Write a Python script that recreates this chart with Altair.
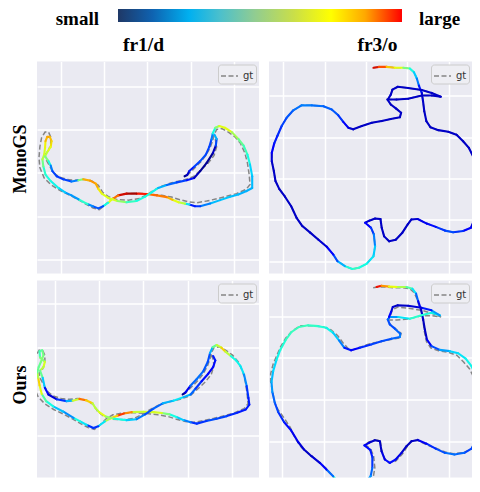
import altair as alt
import pandas as pd

SERIF = "Liberation Serif"
BG = "#EAEAF2"
GT_COLOR = "#858585"

# ---------------- colour bar and headings ----------------
cb_stop_offsets = [0, 0.12, 0.25, 0.36, 0.48, 0.62, 0.75, 0.87, 1.0]
cb_stop_colors = ["#1f3866", "#0f62b0", "#00b0f0", "#4cc0cc", "#90cc92",
                  "#cadf48", "#ffff00", "#ffa800", "#ff0000"]
cb_labels = ["small", "large"]
cb_label_pos = [-0.067, 1.06]

col_titles = ["fr1/d", "fr3/o"]
col_title_pos = [0.0898, 0.9137]
row_titles = ["MonoGS", "Ours"]

# ---------------- fr1/desk ----------------
fr1_gt_x = [2.91, 2.98, 3.10, 3.23, 3.35, 3.45, 3.51, 3.54, 3.60, 3.72,
            3.87, 4.02, 4.15, 4.25, 4.31, 4.35, 4.37, 4.28, 4.06, 3.83,
            3.60, 3.37, 3.14, 2.95, 2.75, 2.56, 2.33, 2.06, 1.79, 1.52,
            1.31, 1.15, 1.02, 0.89, 0.75, 0.56, 0.37, 0.18, -0.03, -0.23,
            -0.38, -0.48, -0.50, -0.48, -0.44, -0.36, -0.28, -0.23, -0.23, -0.28,
            -0.36, -0.34, -0.26, -0.18, -0.05, 0.14, 0.33, 0.52, 0.72, 0.87,
            0.97, 1.10, 1.31, 1.56, 1.79, 1.98, 2.14, 2.33, 2.56, 2.83,
            3.06, 3.25, 3.41, 3.54, 3.60, 3.57, 3.52]
fr1_gt_y = [1.94, 2.00, 2.12, 2.25, 2.40, 2.58, 2.75, 2.88, 3.00, 3.02,
            2.94, 2.83, 2.68, 2.46, 2.23, 1.96, 1.73, 1.62, 1.52, 1.46,
            1.40, 1.35, 1.31, 1.33, 1.38, 1.44, 1.48, 1.51, 1.53, 1.52,
            1.48, 1.38, 1.25, 1.15, 1.19, 1.29, 1.40, 1.50, 1.60, 1.73,
            1.88, 2.12, 2.35, 2.60, 2.81, 2.94, 2.94, 2.83, 2.65, 2.52,
            2.42, 2.31, 2.17, 2.02, 1.91, 1.85, 1.83, 1.85, 1.81, 1.71,
            1.55, 1.45, 1.38, 1.37, 1.40, 1.49, 1.59, 1.69, 1.77, 1.83,
            1.91, 2.08, 2.23, 2.40, 2.60, 2.77, 2.86]

fr1_mono_x = [2.86, 2.92, 2.97, 3.08, 3.22, 3.35, 3.43, 3.48, 3.51, 3.57,
              3.66, 3.79, 3.95, 4.10, 4.22, 4.31, 4.37, 4.42, 4.42, 4.29,
              4.10, 3.91, 3.68, 3.45, 3.22, 3.10, 2.97, 2.87, 2.72, 2.58,
              2.45, 2.22, 1.98, 1.75, 1.52, 1.33, 1.20, 1.10, 0.98, 0.87,
              0.74, 0.62, 0.52, 0.41, 0.25, 0.10, -0.05, -0.23, -0.35, -0.40,
              -0.42, -0.38, -0.36, -0.35, -0.31, -0.25, -0.21, -0.23, -0.31, -0.36,
              -0.28, -0.23, -0.19, -0.09, 0.06, 0.25, 0.41, 0.52, 0.68, 0.81,
              0.87, 0.95, 1.10, 1.31, 1.52, 1.75, 1.95, 2.10, 2.25, 2.45,
              2.68, 2.91, 3.08, 3.22, 3.37, 3.51, 3.58, 3.60, 3.55]
fr1_mono_y = [1.92, 1.95, 2.04, 2.14, 2.27, 2.42, 2.60, 2.77, 2.91, 3.04,
              3.08, 3.04, 2.94, 2.78, 2.63, 2.42, 2.19, 1.92, 1.65, 1.58,
              1.50, 1.45, 1.37, 1.29, 1.23, 1.23, 1.27, 1.29, 1.32, 1.38,
              1.44, 1.48, 1.51, 1.52, 1.52, 1.48, 1.40, 1.31, 1.23, 1.18,
              1.23, 1.28, 1.33, 1.39, 1.48, 1.55, 1.65, 1.81, 1.96, 2.15,
              2.31, 2.42, 2.58, 2.73, 2.83, 2.83, 2.73, 2.60, 2.48, 2.38,
              2.27, 2.17, 2.04, 1.92, 1.85, 1.80, 1.83, 1.85, 1.82, 1.75,
              1.63, 1.52, 1.42, 1.35, 1.32, 1.35, 1.45, 1.55, 1.65, 1.72,
              1.78, 1.83, 1.88, 2.04, 2.23, 2.45, 2.63, 2.78, 2.88]
fr1_mono_err = [0.02, 0.02, 0.12, 0.18, 0.2, 0.2, 0.18, 0.2, 0.3, 0.45,
                0.6, 0.65, 0.6, 0.5, 0.45, 0.4, 0.35, 0.32, 0.3, 0.3,
                0.3, 0.32, 0.32, 0.3, 0.2, 0.15, 0.15, 0.55, 0.6, 0.65,
                0.78, 0.78, 0.82, 0.95, 0.98, 0.88, 0.7, 0.55, 0.2, 0.2,
                0.22, 0.3, 0.5, 0.3, 0.25, 0.3, 0.35, 0.38, 0.38, 0.42,
                0.55, 0.6, 0.62, 0.68, 0.75, 0.72, 0.7, 0.65, 0.6, 0.55,
                0.45, 0.3, 0.2, 0.18, 0.18, 0.2, 0.3, 0.7, 0.75, 0.75,
                0.7, 0.62, 0.62, 0.6, 0.45, 0.38, 0.38, 0.38, 0.35, 0.25,
                0.2, 0.18, 0.1, 0.02, 0.02, 0.02, 0.1, 0.3, 0.3]

fr1_ours_x = [2.89, 2.95, 3.06, 3.21, 3.36, 3.46, 3.51, 3.57, 3.66, 3.77,
              3.86, 3.98, 4.10, 4.20, 4.28, 4.34, 4.38, 4.40, 4.32, 4.11,
              3.89, 3.66, 3.43, 3.21, 3.07, 2.91, 2.75, 2.59, 2.42, 2.23,
              2.00, 1.74, 1.56, 1.41, 1.26, 1.13, 0.98, 0.87, 0.72, 0.57,
              0.42, 0.19, -0.04, -0.20, -0.30, -0.35, -0.38, -0.40, -0.37, -0.32,
              -0.26, -0.29, -0.35, -0.34, -0.23, -0.26, -0.34, -0.28, -0.23, -0.15,
              0.04, 0.26, 0.40, 0.55, 0.70, 0.85, 0.91, 1.00, 1.15, 1.34,
              1.62, 1.85, 2.04, 2.23, 2.44, 2.68, 2.91, 3.07, 3.18, 3.32,
              3.47, 3.58, 3.63, 3.58]
fr1_ours_y = [1.94, 1.98, 2.13, 2.29, 2.47, 2.68, 2.88, 3.01, 3.06, 3.00,
              2.91, 2.81, 2.71, 2.58, 2.39, 2.13, 1.86, 1.71, 1.60, 1.52,
              1.45, 1.39, 1.34, 1.28, 1.31, 1.36, 1.43, 1.49, 1.52, 1.54,
              1.55, 1.54, 1.51, 1.46, 1.40, 1.33, 1.22, 1.18, 1.25, 1.33,
              1.41, 1.55, 1.67, 1.79, 1.95, 2.15, 2.32, 2.44, 2.56, 2.68,
              2.83, 2.94, 2.92, 2.78, 2.68, 2.56, 2.48, 2.32, 2.09, 1.94,
              1.83, 1.79, 1.80, 1.84, 1.81, 1.74, 1.64, 1.54, 1.44, 1.39,
              1.36, 1.38, 1.49, 1.62, 1.74, 1.80, 1.88, 1.94, 2.07, 2.24,
              2.41, 2.56, 2.71, 2.81]
fr1_ours_err = [0.02, 0.02, 0.2, 0.25, 0.22, 0.2, 0.2, 0.4, 0.55, 0.62,
                0.75, 0.4, 0.35, 0.38, 0.32, 0.2, 0.15, 0.15, 0.15, 0.15,
                0.18, 0.2, 0.2, 0.15, 0.2, 0.3, 0.35, 0.4, 0.6, 0.62,
                0.6, 0.58, 0.95, 0.75, 0.62, 0.5, 0.2, 0.15, 0.2, 0.5,
                0.25, 0.28, 0.35, 0.4, 0.5, 0.75, 0.62, 0.5, 0.45, 0.5,
                0.5, 0.48, 0.45, 0.4, 0.62, 0.6, 0.55, 0.4, 0.25, 0.02,
                0.15, 0.2, 0.4, 0.8, 0.78, 0.6, 0.55, 0.6, 0.65, 0.4,
                0.35, 0.3, 0.2, 0.2, 0.25, 0.35, 0.35, 0.25, 0.2, 0.15,
                0.12, 0.12, 0.15, 0.15]

# ---------------- fr3/office ----------------
fr3_gt_x = [2.18, 2.31, 2.50, 2.70, 2.90, 3.06, 3.16, 3.23, 3.28, 3.35,
            3.38, 3.41, 3.46, 3.56, 3.75, 3.99, 4.19, 4.35, 4.49, 4.60,
            4.65, 4.70, 4.73, 4.70, 4.64, 4.54, 4.35, 4.11, 3.91, 3.69,
            3.47, 3.25, 3.10, 3.01, 2.88, 2.72, 2.56, 2.44, 2.38, 2.35,
            2.22, 2.08, 1.98, 2.12, 2.19, 2.22, 2.18, 2.02, 1.83, 1.67,
            1.49, 1.31, 1.21, 1.05, 0.85, 0.65, 0.46, 0.32, 0.19, 0.04,
            -0.10, -0.19, -0.23, -0.28, -0.28, -0.22, -0.14, -0.04, 0.08, 0.24,
            0.44, 0.69, 0.97, 1.17, 1.33, 1.45, 1.57, 1.69, 1.90, 2.14,
            2.38, 2.60, 2.82, 2.85, 2.73, 2.60, 2.52, 2.74, 3.02, 3.35,
            3.59, 3.81, 3.59, 3.35, 3.02, 2.77, 2.64, 2.60, 2.54]
fr3_gt_y = [4.68, 4.70, 4.70, 4.68, 4.68, 4.66, 4.57, 4.42, 4.25, 4.07,
            3.87, 3.63, 3.39, 3.24, 3.17, 3.13, 3.06, 2.90, 2.74, 2.52,
            2.30, 2.02, 1.69, 1.37, 1.05, 0.81, 0.73, 0.70, 0.74, 0.83,
            0.91, 1.02, 1.01, 0.89, 0.69, 0.52, 0.48, 0.60, 0.81, 1.02,
            1.03, 0.98, 0.93, 0.81, 0.65, 0.36, 0.12, -0.06, -0.16, -0.19,
            -0.12, 0.00, 0.16, 0.35, 0.52, 0.69, 0.85, 1.05, 1.33, 1.56,
            1.75, 1.94, 2.18, 2.42, 2.62, 2.85, 3.04, 3.27, 3.47, 3.65,
            3.77, 3.77, 3.75, 3.67, 3.53, 3.37, 3.23, 3.19, 3.27, 3.35,
            3.39, 3.44, 3.48, 3.59, 3.69, 3.79, 3.91, 3.91, 3.93, 4.01,
            4.01, 3.98, 4.07, 4.14, 4.19, 4.22, 4.15, 4.03, 3.93]
# MonoGS estimate on fr3/o lies on the ground truth to within a pixel,
# so the same positions are read for it; only its error colours differ.
fr3_mono_x = list(fr3_gt_x)
fr3_mono_y = list(fr3_gt_y)
fr3_mono_err = [0.95, 0.9, 0.75, 0.65, 0.6, 0.4, 0.35, 0.3, 0.2, 0.1,
                0.07, 0.07, 0.07, 0.07, 0.07, 0.07, 0.07, 0.07, 0.07, 0.07,
                0.07, 0.07, 0.07, 0.07, 0.07, 0.1, 0.15, 0.2, 0.2, 0.15,
                0.12, 0.1, 0.07, 0.07, 0.07, 0.07, 0.07, 0.07, 0.07, 0.07,
                0.07, 0.07, 0.1, 0.15, 0.2, 0.3, 0.35, 0.35, 0.4, 0.42,
                0.35, 0.25, 0.15, 0.1, 0.07, 0.07, 0.07, 0.07, 0.07, 0.07,
                0.07, 0.07, 0.07, 0.07, 0.1, 0.15, 0.15, 0.18, 0.2, 0.22,
                0.25, 0.25, 0.22, 0.22, 0.2, 0.15, 0.1, 0.07, 0.07, 0.07,
                0.07, 0.07, 0.07, 0.07, 0.07, 0.07, 0.07, 0.07, 0.07, 0.07,
                0.07, 0.07, 0.07, 0.07, 0.07, 0.07, 0.07, 0.07, 0.07]

fr3_ours_x = [2.26, 2.38, 2.56, 2.77, 2.98, 3.12, 3.21, 3.26, 3.33, 3.38,
              3.42, 3.47, 3.58, 3.78, 4.02, 4.22, 4.40, 4.54, 4.64, 4.69,
              4.74, 4.78, 4.74, 4.70, 4.66, 4.54, 4.37, 4.13, 3.90, 3.68,
              3.46, 3.25, 3.10, 2.98, 2.86, 2.72, 2.58, 2.46, 2.38, 2.34,
              2.22, 2.08, 1.97, 2.11, 2.16, 2.16, 2.12, 1.98, 1.78, 1.58,
              1.36, 1.22, 1.06, 0.90, 0.70, 0.52, 0.38, 0.21, 0.04, -0.10,
              -0.18, -0.24, -0.26, -0.22, -0.14, -0.05, 0.08, 0.22, 0.40, 0.62,
              0.86, 1.06, 1.22, 1.36, 1.49, 1.65, 1.86, 2.13, 2.38, 2.62,
              2.82, 2.83, 2.70, 2.58, 2.53, 2.58, 2.78, 3.06, 3.34, 3.58,
              3.78, 3.58, 3.34, 3.02, 2.77, 2.65, 2.61, 2.56]
fr3_ours_y = [4.70, 4.73, 4.71, 4.70, 4.70, 4.66, 4.54, 4.36, 4.16, 3.92,
              3.68, 3.44, 3.28, 3.19, 3.16, 3.11, 2.98, 2.80, 2.60, 2.36,
              2.12, 1.80, 1.48, 1.28, 1.04, 0.82, 0.72, 0.68, 0.72, 0.82,
              0.94, 1.03, 1.00, 0.88, 0.72, 0.56, 0.48, 0.56, 0.76, 1.00,
              1.02, 0.96, 0.90, 0.79, 0.62, 0.36, 0.16, -0.02, -0.14, -0.12,
              -0.01, 0.16, 0.32, 0.48, 0.64, 0.80, 0.98, 1.26, 1.46, 1.70,
              1.92, 2.18, 2.42, 2.68, 2.95, 3.19, 3.43, 3.62, 3.74, 3.78,
              3.76, 3.72, 3.60, 3.42, 3.24, 3.18, 3.24, 3.32, 3.40, 3.46,
              3.50, 3.58, 3.70, 3.80, 3.92, 3.98, 3.98, 3.94, 4.02, 4.08,
              4.02, 4.14, 4.20, 4.25, 4.26, 4.22, 4.10, 3.98]
fr3_ours_err = [0.95, 0.85, 0.65, 0.62, 0.5, 0.4, 0.3, 0.15, 0.08, 0.06,
                0.06, 0.08, 0.15, 0.25, 0.32, 0.35, 0.35, 0.38, 0.35, 0.25,
                0.2, 0.2, 0.2, 0.25, 0.22, 0.18, 0.2, 0.25, 0.22, 0.18,
                0.15, 0.08, 0.06, 0.06, 0.08, 0.12, 0.15, 0.12, 0.08, 0.06,
                0.06, 0.08, 0.12, 0.15, 0.15, 0.2, 0.25, 0.3, 0.45, 0.5,
                0.45, 0.3, 0.15, 0.1, 0.07, 0.07, 0.1, 0.12, 0.15, 0.18,
                0.2, 0.25, 0.3, 0.32, 0.35, 0.38, 0.4, 0.42, 0.42, 0.42,
                0.4, 0.38, 0.35, 0.3, 0.2, 0.1, 0.15, 0.18, 0.2, 0.2,
                0.25, 0.25, 0.2, 0.2, 0.2, 0.25, 0.3, 0.4, 0.4, 0.38,
                0.35, 0.2, 0.1, 0.07, 0.07, 0.07, 0.1, 0.15]

# ---------------- styling helpers ----------------
GRID = [0, 1, 2, 3, 4]
JET = alt.Scale(domain=[0, 0.125, 0.34, 0.375, 0.5, 0.64, 0.75, 0.89, 1.0],
                range=["#000080", "#0000ff", "#00dbff", "#14ffe2", "#7bff7b",
                       "#eeff08", "#ff9700", "#ff1300", "#800000"],
                interpolate="rgb")

AXIS = dict(labels=False, ticks=False, domain=False, grid=True,
            gridColor="white", gridWidth=1.5, minExtent=0, title=None)

LEGEND = alt.Legend(title=None, orient="top-right", offset=3, padding=2,
                    fillColor="#eeeef3", strokeColor="#cccccc", cornerRadius=3,
                    symbolType="stroke", symbolSize=289, symbolStrokeWidth=1.5,
                    symbolStrokeColor=GT_COLOR, labelFont="DejaVu Sans",
                    labelFontSize=10, labelColor="#333333", labelOffset=4)


def segments(xs, ys, es):
    rows = []
    for i in range(len(xs) - 1):
        rows.append({"x": xs[i], "y": ys[i], "x2": xs[i + 1], "y2": ys[i + 1],
                     "e": (es[i] + es[i + 1]) / 2})
    return pd.DataFrame(rows)


def panel(gx, gy, ex, ey, ee, xdom, ydom, width, height,
          row_title=None, row_title_y=None):
    gt_df = pd.DataFrame({"x": gx, "y": gy, "i": list(range(len(gx))),
                          "name": ["gt"] * len(gx)})
    seg_df = segments(ex, ey, ee)
    xs = alt.Scale(domain=xdom, nice=False, zero=False)
    ys = alt.Scale(domain=ydom, nice=False, zero=False)
    xaxis = alt.Axis(values=GRID, **AXIS)
    ykw = dict(AXIS)
    if row_title:
        ykw.update(title=row_title, titleFont=SERIF, titleFontSize=18,
                   titleFontWeight="bold", titleColor="black", titlePadding=8,
                   titleY=row_title_y)
    yaxis = alt.Axis(values=GRID, **ykw)
    gt = alt.Chart(gt_df).mark_line(color=GT_COLOR, strokeWidth=1.5, clip=True).encode(
        x=alt.X("x:Q", scale=xs, axis=xaxis),
        y=alt.Y("y:Q", scale=ys, axis=yaxis),
        order="i:Q",
        strokeDash=alt.StrokeDash("name:N",
                                  scale=alt.Scale(domain=["gt"], range=[[5, 2.5]]),
                                  legend=LEGEND),
    )
    est = alt.Chart(seg_df).mark_rule(strokeWidth=2.1, strokeCap="round", clip=True).encode(
        x=alt.X("x:Q", scale=xs, axis=xaxis),
        y=alt.Y("y:Q", scale=ys, axis=yaxis),
        x2="x2:Q",
        y2="y2:Q",
        color=alt.Color("e:Q", scale=JET, legend=None),
    )
    return alt.layer(gt, est).properties(
        width=width, height=height,
        view=alt.ViewBackground(fill=BG, strokeWidth=0))


p1 = panel(fr1_gt_x, fr1_gt_y, fr1_mono_x, fr1_mono_y, fr1_mono_err,
           [-0.546, 4.577], [-0.323, 4.569], 222, 212,
           row_title=row_titles[0], row_title_y=97)
p2 = panel(fr3_gt_x, fr3_gt_y, fr3_mono_x, fr3_mono_y, fr3_mono_err,
           [-0.347, 4.565], [-0.298, 4.831], 203, 212)
p3 = panel(fr1_gt_x, fr1_gt_y, fr1_ours_x, fr1_ours_y, fr1_ours_err,
           [-0.408, 4.619], [0.06, 4.521], 222, 197,
           row_title=row_titles[1], row_title_y=104)
p4 = panel(fr3_gt_x, fr3_gt_y, fr3_ours_x, fr3_ours_y, fr3_ours_err,
           [-0.32, 4.552], [0.128, 4.856], 203, 197)

# ---------------- colour bar with headings ----------------
grad = alt.LinearGradient(
    gradient="linear",
    stops=[alt.GradientStop(offset=o, color=c) for o, c in zip(cb_stop_offsets, cb_stop_colors)],
    x1=0, x2=1, y1=0, y2=0)
cb_scale = alt.Scale(domain=[-0.2852, 1.2465], nice=False, zero=False)
TXT = dict(font=SERIF, fontWeight="bold", color="black", baseline="middle")

cb_bar = alt.Chart(pd.DataFrame({"lo": [0.0], "hi": [1.0]})).mark_rect(color=grad).encode(
    x=alt.X("lo:Q", scale=cb_scale, axis=None), x2="hi:Q")
cb_small = alt.Chart(pd.DataFrame({"t": [cb_labels[0]], "p": [cb_label_pos[0]]})).mark_text(
    align="right", dy=3, fontSize=19, **TXT).encode(
    x=alt.X("p:Q", scale=cb_scale, axis=None), text="t:N")
cb_large = alt.Chart(pd.DataFrame({"t": [cb_labels[1]], "p": [cb_label_pos[1]]})).mark_text(
    align="left", dy=3, fontSize=19, **TXT).encode(
    x=alt.X("p:Q", scale=cb_scale, axis=None), text="t:N")
heads = alt.Chart(pd.DataFrame({"t": col_titles, "p": col_title_pos})).mark_text(
    align="center", dy=29.5, fontSize=19.5, **TXT).encode(
    x=alt.X("p:Q", scale=cb_scale, axis=None), text="t:N")
top = alt.layer(cb_bar, cb_small, cb_large, heads).properties(
    width=435, height=13, view=alt.ViewBackground(fill="white", strokeWidth=0))


def indep(c):
    return c.resolve_scale(x="independent", y="independent",
                           strokeDash="independent").resolve_legend(strokeDash="independent")


row1 = indep(alt.hconcat(p1, p2, spacing=10))
row2 = indep(alt.hconcat(p3, p4, spacing=10))
rows = indep(alt.vconcat(row1, row2, spacing=7))
chart = indep(alt.vconcat(top, rows, spacing=6.5)).properties(
    padding={"left": 3, "top": 1, "right": 0, "bottom": 0}
).configure(background="white").configure_view(strokeWidth=0)

chart.save("out.html", embed_options={"renderer": "svg", "actions": False})
